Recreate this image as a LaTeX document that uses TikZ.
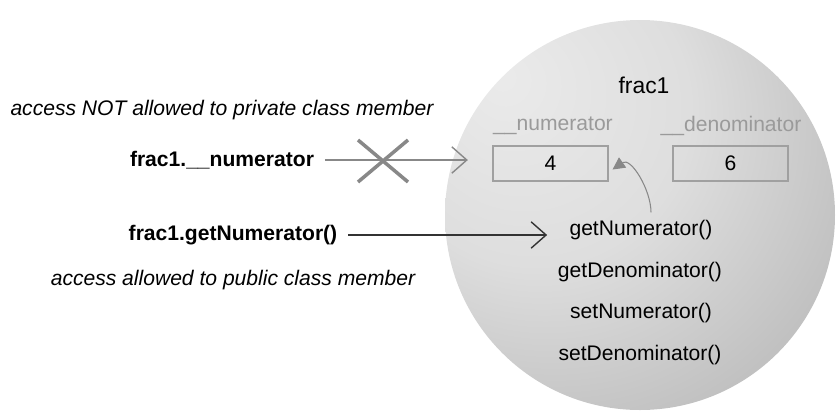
\documentclass[tikz,border=0pt]{standalone}
\usepackage{fontspec}
\setmainfont{Liberation Sans}
\usepackage{xcolor}
\usetikzlibrary{arrows.meta,positioning,calc}
\definecolor{linegray}{HTML}{888888}
\definecolor{boxgray}{HTML}{A0A0A0}
\definecolor{labelgray}{HTML}{9A9A9A}
\pgfdeclareradialshading{objball}{\pgfpoint{-18bp}{18bp}}{%
  color(0bp)=(black!8); color(20bp)=(black!13); color(50bp)=(black!32); color(80bp)=(black!55)}

\begin{document}
\begin{tikzpicture}[x=0.02cm, y=-0.02cm,
  txt/.style={font=\fontsize{12}{14}\selectfont, inner sep=2pt},
  call/.style={txt, font=\fontsize{12}{14}\selectfont\bfseries},
  note/.style={txt, font=\fontsize{12}{14}\selectfont\itshape},
  member/.style={txt, text=labelgray},
  valbox/.style={draw=boxgray, line width=0.6pt, minimum width=2.3cm, minimum height=0.7cm, font=\fontsize{12}{14}\selectfont},
  open/.style={-{Straight Barb[length=8.5pt, width=15pt, line width=0.8pt]}, line width=0.8pt, shorten <=4pt},
  cross/.style={linegray, line width=2pt}
]
\useasboundingbox (0,0) rectangle (836,410);
% the object
\shade[shading=objball] (640,215) circle[radius=195];
\node[txt, font=\fontsize{13}{15}\selectfont] (title) at (644,85) {frac1};
\node[member] (nummember) at (553,126) {\_\_numerator};
\node[member] (denmember) at (731,126) {\_\_denominator};
\node[valbox] (numbox) at (550.5,163.5) {4};
\node[valbox] (denbox) at (730.5,163.5) {6};
\node[txt] (getnum) at (641,230) {getNumerator()};
\node[txt] (getden) at (640,272) {getDenominator()};
\node[txt] (setnum) at (641,313) {setNumerator()};
\node[txt] (setden) at (640,355) {setDenominator()};
% calls from outside
\node[note] (privnote) at (222,110) {access NOT allowed to private class member};
\node[call] (privcall) at (222,160) {frac1.\_\_numerator};
\node[call] (pubcall) at (233,235) {frac1.getNumerator()};
\node[note] (pubnote) at (233,280) {access allowed to public class member};
\draw[open, linegray] (privcall.east) -- ++(150,0) coordinate (privtip);
\draw[open, black!80] (pubcall.east) -- ++(206,0) coordinate (pubtip);
\coordinate (block) at (383,161);
\draw[cross] ($(block)+(-25,-21)$) -- ($(block)+(25,21)$);
\draw[cross] ($(block)+(-25,21)$) -- ($(block)+(25,-21)$);
\draw[linegray, line width=0.6pt, -{Triangle[length=7pt, width=7pt]}]
  ($(getnum.north)+(10,-4)$) to[out=90, in=35] ($(numbox.south east)+(4,-12)$);
\end{tikzpicture}
\end{document}
